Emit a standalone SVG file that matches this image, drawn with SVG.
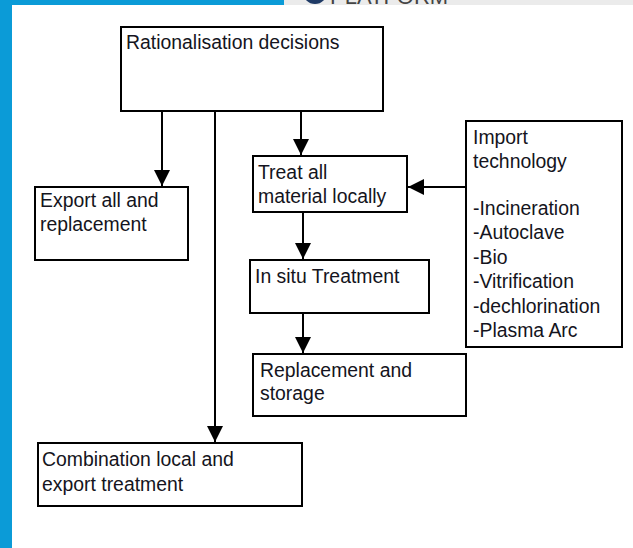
<svg xmlns="http://www.w3.org/2000/svg" width="633" height="548" viewBox="0 0 633 548">
<defs>
<style>
.box{fill:#fff;stroke:#000;stroke-width:2}
.t{font-family:"Liberation Sans",Arial,sans-serif;font-size:19.4px;fill:#141420}
.c{stroke:#000;stroke-width:2;fill:none}
</style>
<marker id="ah" markerUnits="userSpaceOnUse" markerWidth="16" markerHeight="18" refX="16" refY="9" orient="auto">
<path d="M0,1 L16,9 L0,17 z" fill="#000"/>
</marker>
<clipPath id="topclip"><rect x="284" y="0" width="349" height="5"/></clipPath>
</defs>
<rect x="0" y="0" width="633" height="548" fill="#fff"/>
<g id="frame">
<rect x="0" y="0" width="12" height="548" fill="#0b9bd7"/>
<rect x="0" y="0" width="284" height="5" fill="#0b9bd7"/>
<rect x="284" y="0" width="349" height="5" fill="#ebebeb"/>
<g clip-path="url(#topclip)">
<circle cx="315" cy="-8" r="12" fill="#1f3a66"/>
<text x="330" y="4" style="font-family:'Liberation Sans',Arial,sans-serif;font-size:22px;fill:#444">PLATFORM</text>
</g>
</g>
<g id="connectors">
<line class="c" x1="162" y1="111" x2="162" y2="186" marker-end="url(#ah)"/>
<line class="c" x1="215" y1="111" x2="215" y2="442" marker-end="url(#ah)"/>
<line class="c" x1="301" y1="111" x2="301" y2="155" marker-end="url(#ah)"/>
<line class="c" x1="303" y1="212" x2="303" y2="259" marker-end="url(#ah)"/>
<line class="c" x1="303" y1="313" x2="303" y2="353" marker-end="url(#ah)"/>
<line class="c" x1="466" y1="187" x2="408" y2="187" marker-end="url(#ah)"/>
</g>
<g id="rationalisation">
<rect class="box" x="121" y="27" width="262" height="84"/>
<text class="t" x="126" y="49">Rationalisation decisions</text>
</g>
<g id="export">
<rect class="box" x="35" y="187" width="153" height="73"/>
<text class="t" x="40" y="207">Export all and</text>
<text class="t" x="40" y="231">replacement</text>
</g>
<g id="treat">
<rect class="box" x="253" y="156" width="154" height="56"/>
<text class="t" x="258" y="179">Treat all</text>
<text class="t" x="258" y="203">material locally</text>
</g>
<g id="import">
<rect class="box" x="466" y="121" width="156" height="226"/>
<text class="t" x="473" y="144">Import</text>
<text class="t" x="473" y="168">technology</text>
<text class="t" x="473" y="215">-Incineration</text>
<text class="t" x="473" y="239">-Autoclave</text>
<text class="t" x="473" y="264">-Bio</text>
<text class="t" x="473" y="288">-Vitrification</text>
<text class="t" x="473" y="313">-dechlorination</text>
<text class="t" x="473" y="337">-Plasma Arc</text>
</g>
<g id="insitu">
<rect class="box" x="250" y="260" width="179" height="53"/>
<text class="t" x="255" y="283">In situ Treatment</text>
</g>
<g id="replacement">
<rect class="box" x="253" y="354" width="213" height="62"/>
<text class="t" x="260" y="377">Replacement and</text>
<text class="t" x="260" y="400">storage</text>
</g>
<g id="combination">
<rect class="box" x="38" y="443" width="264" height="63"/>
<text class="t" x="42" y="466">Combination local and</text>
<text class="t" x="42" y="491">export treatment</text>
</g>
</svg>
